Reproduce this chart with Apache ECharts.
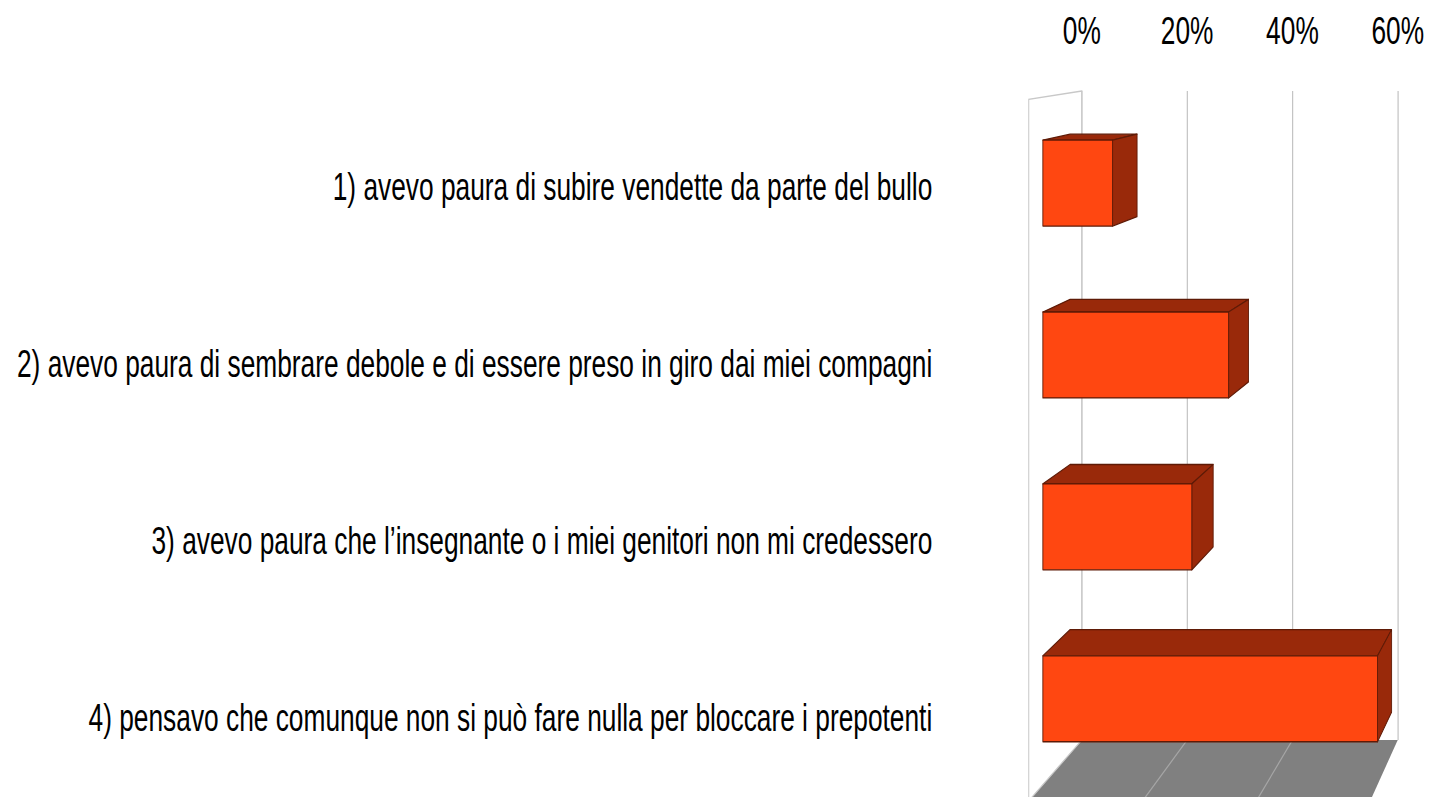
<!DOCTYPE html>
<html>
<head>
<meta charset="utf-8">
<script src="https://cdn.jsdelivr.net/npm/echarts@6/dist/echarts.min.js"></script>
<style>
  html, body { margin: 0; padding: 0; background: #fff; overflow: hidden; }
  /* the source picture is squashed horizontally, so draw wide and squeeze */
  #chart { width: 2104px; height: 797px; transform: scaleX(0.68); transform-origin: 0 0; }
</style>
</head>
<body>
<div id="chart"></div>
<script>
const categories = [
  '1) avevo paura di subire vendette da parte del bullo',
  '2) avevo paura di sembrare debole e di essere preso in giro dai miei compagni',
  '3) avevo paura che l\u2019insegnante o i miei genitori non mi credessero',
  '4) pensavo che comunque non si può fare nulla per bloccare i prepotenti'
];
const values = [12.5, 33.3, 26.7, 60];
const ticks = [0, 20, 40, 60];

// perspective: vanishing point relative to the grid's top-right corner
const VP_DX = 500;
const VP_DY = -103;
const BAR_BACK = 1.018;
const BAR_FRONT = 1.0595;
const WALL_FRONT = 1.081;

const FONT = 'Liberation Sans, Arial, sans-serif';

function vanish(cs) {
  return [cs.x + cs.width + VP_DX, cs.y + VP_DY];
}

function project(x, y, vp, s) {
  return [vp[0] + (x - vp[0]) * s, vp[1] + (y - vp[1]) * s];
}

function renderFrame(params, api) {
  const cs = params.coordSys;
  const vp = vanish(cs);
  const top = cs.y;
  const bottom = cs.y + cs.height;
  const x0 = api.coord([ticks[0], 0])[0];
  const x1 = api.coord([ticks[ticks.length - 1], 0])[0];

  const floor = {
    type: 'polygon',
    shape: { points: [[x0, bottom], [x1, bottom], project(x1, bottom, vp, WALL_FRONT), project(x0, bottom, vp, WALL_FRONT)] },
    style: { fill: '#808080', stroke: 'none' }
  };
  const floorLines = ticks.slice(1, -1).map(t => {
    const x = api.coord([t, 0])[0];
    const p = project(x, bottom, vp, WALL_FRONT);
    return {
      type: 'line',
      shape: { x1: x, y1: bottom, x2: p[0], y2: p[1] },
      style: { stroke: '#a6a6a6', lineWidth: 1.5 }
    };
  });
  const sideWall = {
    type: 'polygon',
    shape: { points: [[x0, top], project(x0, top, vp, WALL_FRONT), project(x0, bottom, vp, WALL_FRONT), [x0, bottom]] },
    style: { fill: 'rgba(255,255,255,0)', stroke: '#c8c8c8', lineWidth: 1.5 }
  };
  return { type: 'group', children: [floor].concat(floorLines, [sideWall]) };
}

function renderBar(params, api) {
  const cs = params.coordSys;
  const vp = vanish(cs);
  const idx = api.value(0);
  const start = api.coord([0, idx]);
  const end = api.coord([api.value(1), idx]);
  const h = api.size([0, 1])[1] * 0.5;
  const xa = start[0];
  const xb = end[0];
  const ya = start[1] - h / 2;
  const yb = start[1] + h / 2;
  const P = (x, y, s) => project(x, y, vp, s);
  const edge = { stroke: '#5e1a06', lineWidth: 1.3, lineJoin: 'round' };

  return {
    type: 'group',
    children: [
      {
        type: 'polygon',
        shape: { points: [P(xa, ya, BAR_BACK), P(xb, ya, BAR_BACK), P(xb, ya, BAR_FRONT), P(xa, ya, BAR_FRONT)] },
        style: Object.assign({ fill: '#99290a' }, edge)
      },
      {
        type: 'polygon',
        shape: { points: [P(xb, ya, BAR_BACK), P(xb, yb, BAR_BACK), P(xb, yb, BAR_FRONT), P(xb, ya, BAR_FRONT)] },
        style: Object.assign({ fill: '#99290a' }, edge)
      },
      {
        type: 'polygon',
        shape: { points: [P(xa, ya, BAR_FRONT), P(xb, ya, BAR_FRONT), P(xb, yb, BAR_FRONT), P(xa, yb, BAR_FRONT)] },
        style: Object.assign({ fill: '#ff4711' }, edge)
      }
    ]
  };
}

const chart = echarts.init(document.getElementById('chart'), null, { renderer: 'svg' });

const option = {
  animation: false,
  backgroundColor: '#fff',
  grid: [
    // back wall of the 3D box
    { left: 1591, right: 48.5, top: 91, bottom: 57, outerBoundsMode: 'none' },
    // front plane, only used to place the category labels
    { left: 1379, width: 600, top: 98.5, height: 708, outerBoundsMode: 'none' }
  ],
  xAxis: [
    {
      gridIndex: 0,
      type: 'value',
      position: 'top',
      min: 0,
      max: 60,
      interval: 20,
      axisLine: { show: false },
      axisTick: { show: false },
      axisLabel: {
        formatter: '{value}%',
        fontFamily: FONT,
        fontSize: 38.7,
        color: '#000',
        margin: 41
      },
      splitLine: { show: true, lineStyle: { color: '#b8b8b8', width: 1.5 } }
    },
    { gridIndex: 1, type: 'value', show: false, min: 0, max: 60 }
  ],
  yAxis: [
    {
      gridIndex: 0,
      type: 'category',
      data: categories,
      inverse: true,
      axisLine: { show: false },
      axisTick: { show: false },
      axisLabel: { show: false },
      splitLine: { show: false }
    },
    {
      gridIndex: 1,
      type: 'category',
      data: categories,
      inverse: true,
      axisLine: { show: false },
      axisTick: { show: false },
      axisLabel: {
        interval: 0,
        fontFamily: FONT,
        fontSize: 38.7,
        color: '#000',
        margin: 8
      }
    }
  ],
  series: [
    {
      type: 'custom',
      name: 'frame',
      xAxisIndex: 0,
      yAxisIndex: 0,
      z: 1,
      silent: true,
      renderItem: renderFrame,
      data: [[0, 0]]
    },
    {
      type: 'custom',
      name: 'risposte',
      xAxisIndex: 0,
      yAxisIndex: 0,
      z: 2,
      renderItem: renderBar,
      encode: { x: 1, y: 0 },
      data: values.map((v, i) => [i, v])
    }
  ]
};

chart.setOption(option);
</script>
</body>
</html>
